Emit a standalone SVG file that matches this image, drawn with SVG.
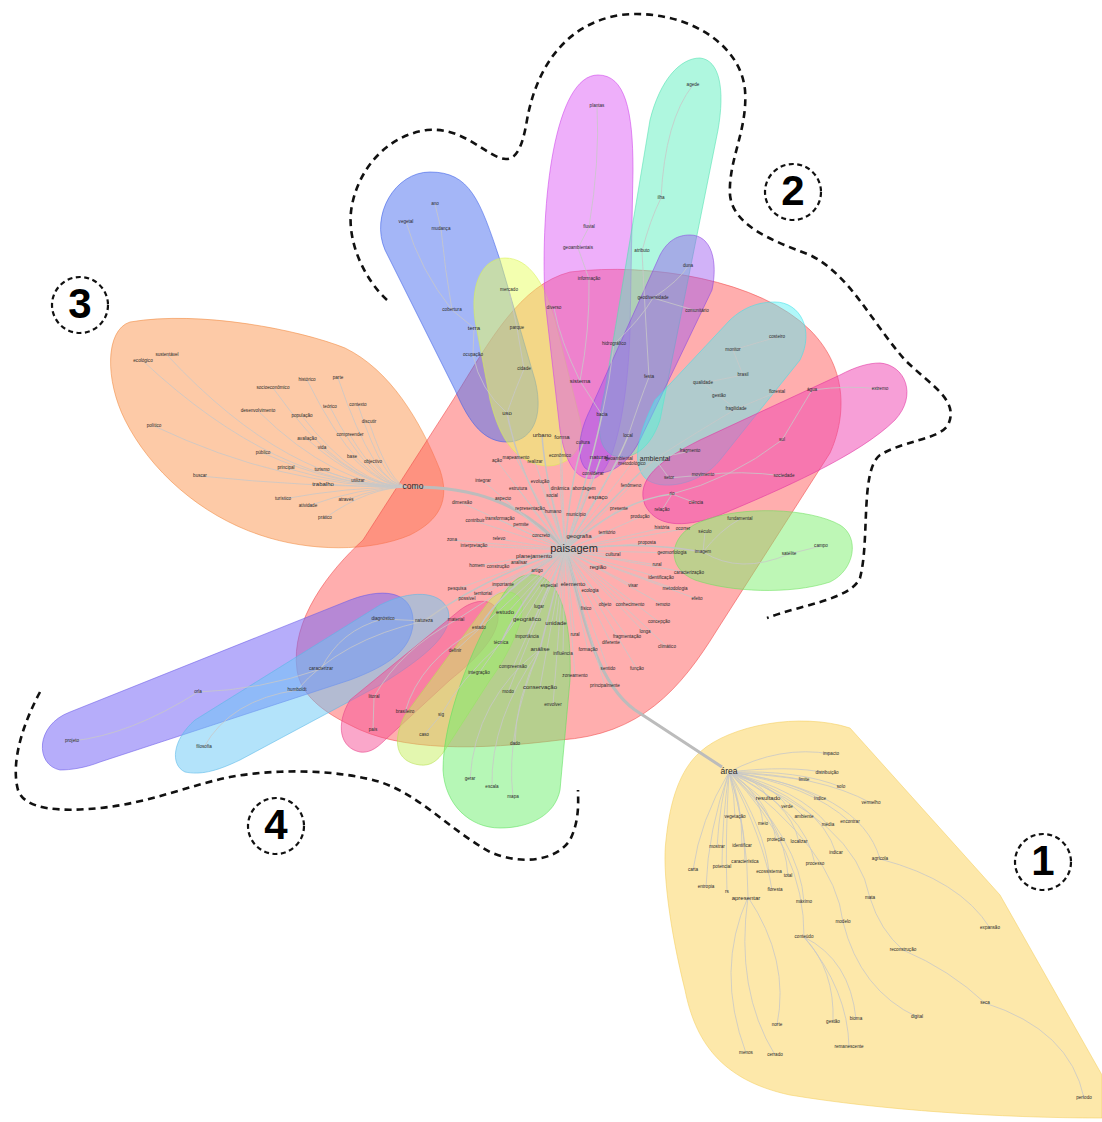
<svg xmlns="http://www.w3.org/2000/svg" width="1102" height="1122" viewBox="0 0 1102 1122">
<style>
.h{stroke-width:.8;stroke-opacity:.7}
.e{fill:none;stroke:#c8c8c8;stroke-width:.8}
.T{fill:none;stroke:#c4c4c4;stroke-width:1.5}
.E{fill:none;stroke:#bcbcbc;stroke-width:3}
text{font-family:"Liberation Sans",Arial,sans-serif;font-size:4.6px;fill:#2a2a2a;text-anchor:middle;dominant-baseline:middle}
.m{font-size:6px}
.b{font-size:8.5px}
.B{font-size:11px}
.d{fill:none;stroke:#111;stroke-width:2.6;stroke-dasharray:7 5}
.c{fill:none;stroke:#111;stroke-width:2.2;stroke-dasharray:5 3.5}
.n{font-size:42px;font-weight:bold;fill:#000}
</style>
<rect width="1102" height="1122" fill="#fff"/>
<g id="hulls">
<path id="hull-area" class="h" d="M700 752C730 725 800 712 850 728L1000 895L1102 1075L1102 1118C1000 1118 880 1110 790 1095C720 1080 695 1040 685 990C670 930 662 870 666 840C670 800 680 770 700 752Z" fill="#fcd972" fill-opacity=".6" stroke="#f5cf60"/>
<path id="hull-como" class="h" d="M130 322C200 310 300 330 345 348C390 370 420 420 440 470C450 500 440 520 410 535C370 552 310 552 260 535C200 515 150 470 125 420C105 380 105 330 130 322Z" fill="#fb8a3c" fill-opacity=".45" stroke="#f08a40"/>
<path id="hull-paisagem" class="h" d="M297 670C290 620 330 570 363 540L453 400C490 340 520 285 570 272C650 262 760 280 810 330C850 370 845 420 830 453L717 630C680 690 640 735 560 740C480 750 400 752 350 725C315 708 300 690 297 670Z" fill="#ff5555" fill-opacity=".48" stroke="#f04848"/>
<path id="hull-terra" class="h" d="M430 172C470 172 480 200 500 260L535 380C545 420 530 442 507 442C485 442 470 425 455 390L385 250C370 215 395 172 430 172Z" fill="#4a6ef0" fill-opacity=".5" stroke="#3a5ee8"/>
<path id="hull-mercado" class="h" d="M505 258C530 258 545 285 555 320L580 420C588 455 560 470 540 465C515 460 500 440 490 400L475 320C470 285 482 258 505 258Z" fill="#e8ff60" fill-opacity=".5" stroke="#d8f050"/>
<path id="hull-plantas" class="h" d="M598 75C625 75 633 110 633 170L630 330C628 400 615 470 595 478C575 482 565 460 560 430L545 300C540 200 555 75 598 75Z" fill="#d94ef5" fill-opacity=".45" stroke="#cc40ea"/>
<path id="hull-ilha" class="h" d="M700 58C720 60 725 90 718 130L660 420C650 450 630 462 612 455C595 445 598 420 605 390L650 120C660 80 680 58 700 58Z" fill="#5ff0c0" fill-opacity=".5" stroke="#4fe0b0"/>
<path id="hull-duna" class="h" d="M690 235C712 235 718 262 712 290L640 440C625 470 600 480 585 468C575 455 580 430 590 410L660 255C668 240 678 235 690 235Z" fill="#9a55f0" fill-opacity=".45" stroke="#8a45e0"/>
<path id="hull-costeiro" class="h" d="M775 302C800 302 815 330 800 360L720 460C700 485 660 492 645 478C630 462 640 430 655 400L730 320C745 306 760 302 775 302Z" fill="#4ff0f5" fill-opacity=".45" stroke="#40e0e8"/>
<path id="hull-extremo" class="h" d="M880 363C905 365 918 395 895 420C860 455 780 490 720 515C680 530 655 525 645 505C635 480 660 460 700 440L840 375C855 367 868 363 880 363Z" fill="#f040b0" fill-opacity=".5" stroke="#e030a0"/>
<path id="hull-campo" class="h" d="M700 522C740 505 810 508 840 525C860 537 855 570 830 582C790 595 730 592 695 580C665 568 668 535 700 522Z" fill="#7ef06e" fill-opacity=".5" stroke="#6ee05e"/>
<path id="hull-orla" class="h" d="M60 770C35 765 35 725 70 712L350 600C390 585 415 595 413 625C410 650 390 665 350 680L100 762C85 768 70 770 60 770Z" fill="#7a6af5" fill-opacity=".55" stroke="#6a5ae8"/>
<path id="hull-humboldt" class="h" d="M185 772C170 765 172 740 195 720L380 605C410 590 440 590 448 610C455 635 420 660 380 685L240 760C215 772 200 775 185 772Z" fill="#68c8f5" fill-opacity=".5" stroke="#58b8e8"/>
<path id="hull-litoral" class="h" d="M360 752C340 748 335 725 350 700L460 610C480 595 500 600 498 620C495 640 475 660 450 680L385 740C375 750 368 753 360 752Z" fill="#f55095" fill-opacity=".5" stroke="#e84088"/>
<path id="hull-sig" class="h" d="M420 765C395 762 392 740 405 715L490 600C505 585 525 592 522 612C520 630 505 660 490 680L445 750C437 762 430 766 420 765Z" fill="#c8f060" fill-opacity=".5" stroke="#b8e050"/>
<path id="hull-analise" class="h" d="M535 575C560 578 572 620 570 680L560 790C555 815 530 828 500 828C470 828 445 805 443 770C443 720 470 650 500 600C510 582 520 573 535 575Z" fill="#6ef06e" fill-opacity=".5" stroke="#5ee05e"/>
</g>
<g id="connectors">
<path class="E" d="M413 487C470 487 520 500 565 550"/>
<path class="E" d="M568 556C585 630 600 685 635 710L722 767"/>
<path class="T" d="M565 550Q520 480 507 413M565 550Q545 480 542 435M565 550Q570 480 583 443M565 550Q590 470 602 415M565 550Q610 480 628 436M565 550Q620 490 655 459M565 550Q590 490 601 457M565 550Q480 580 424 621M565 550Q500 590 479 628M565 550L540 649M565 550Q520 600 501 643M565 550Q640 540 703 552M565 550Q620 500 672 494"/>
<path class="e" d="M565 550L497 461M565 550L516 458M565 550L535 462M565 550L560 456M565 550L483 481M565 550L540 482M565 550L560 489M565 550L584 489M565 550L518 489M565 550L552 496M565 550L598 497M565 550L503 499M565 550L462 503M565 550L532 509M565 550L552 511M565 550L619 509M565 550L640 517M565 550L475 521M565 550L500 520M565 550L521 525M565 550L576 515M565 550L607 533M565 550L452 540M565 550L499 539M565 550L541 536M565 550L579 536M565 550L474 546M565 550L613 555M565 550L647 543M565 550L477 566M565 550L498 566M565 550L519 562M565 550L598 567M565 550L537 571M565 550L657 565M565 550L662 528M565 550L683 529M565 550L672 553M565 550L689 573M565 550L661 578M565 550L633 586M565 550L675 589M565 550L697 599M565 550L605 605M565 550L630 605M565 550L663 605M565 550L659 622M565 550L457 589M565 550L503 585M565 550L551 586M565 550L571 584M565 550L590 591M565 550L483 594M565 550L467 599M565 550L539 607M565 550L586 609M565 550L631 486M565 550L593 474M565 550L556 623M565 550L527 637M565 550L575 635M565 550L627 637M565 550L611 643M565 550L645 633M565 550L667 647M565 550L588 650M565 550L563 654M565 550L608 669M565 550L637 669M565 550L575 676M565 550L605 686M565 550L540 687M565 550L513 667M565 550L508 692M565 550L553 705M565 550L507 613M565 550L525 619M565 550L456 620M565 550L479 673M565 550L455 651M565 550L619 459M565 550L632 463M565 550L561 437"/>
<path class="e" d="M507 413Q515 390 524 369L517 328L509 290M507 413Q480 390 473 355L474 328L452 310M452 310Q445 270 441 229L435 204M452 310Q420 270 406 222M602 415L580 381M580 381Q560 340 554 308M580 381Q590 330 589 279L578 248L589 227M589 227Q600 160 597 106M602 415Q610 380 614 344M614 344Q640 320 653 298L697 311M653 298Q680 280 688 266M628 436Q640 400 649 377M649 377Q645 310 642 251M642 251Q650 220 661 198M661 198Q665 120 693 85M655 459Q700 430 736 409L719 396L703 383L743 375L733 350L777 337M736 409L777 392M655 459L690 451M655 459L669 478L703 475M703 475Q740 470 784 476M672 494Q730 480 782 440M782 440Q800 410 812 390M812 390Q850 385 880 389M672 494L696 503M672 494L662 510M703 552Q740 575 789 554L821 546M703 552Q720 530 740 519M703 552L705 532"/>
<path class="e" d="M424 621L383 619M383 619Q340 630 321 669M321 669Q260 690 198 692M198 692Q130 735 72 741M424 621Q340 640 297 690M297 690Q230 700 204 747M456 620Q400 650 374 697L373 730M479 628Q420 660 405 712M501 643Q460 680 441 715L424 735M540 649Q475 700 470 779M540 649Q490 720 492 787M540 649Q505 730 513 797M540 649Q515 700 515 744"/>
<path class="e" d="M408 487Q290 487 167 355M408 487Q278 487 143 361M408 487Q360 487 307 380M408 487Q375 487 338 378M408 487Q343 487 273 388M408 487Q371 487 330 407M408 487Q385 487 358 405M408 487Q335 487 258 411M408 487Q357 487 302 416M408 487Q283 487 154 426M408 487Q391 487 369 422M408 487Q381 487 350 435M408 487Q360 487 307 439M408 487Q367 487 322 448M408 487Q338 487 263 453M408 487Q382 487 352 457M408 487Q393 487 373 462M408 487Q349 487 286 468M408 487Q367 487 322 470M408 487Q306 487 200 476M408 487Q385 487 358 481M408 487Q368 487 323 484M408 487Q348 487 283 499M408 487Q379 487 346 500M408 487Q360 487 308 506M408 487Q369 487 325 518"/>
<path class="e" d="M729 772Q780 745 831 754M729 772Q790 765 827 773M729 772Q770 775 804 780M729 772Q800 770 841 787M729 772Q790 780 820 799M729 772Q820 775 871 803M729 772Q760 780 768 798M729 772Q775 785 787 807M729 772Q780 790 804 817M729 772Q800 790 828 825M729 772Q810 785 850 822M729 772Q735 795 735 817M729 772Q760 790 763 824M729 772Q770 800 776 840M729 772Q790 800 799 842M729 772Q820 800 836 853M729 772Q720 800 717 847M729 772Q742 800 742 846M729 772Q860 790 880 859M729 772Q805 810 815 864M729 772Q700 820 693 870M729 772Q722 820 722 867M729 772Q745 820 745 862M729 772Q765 830 769 872M729 772Q785 820 788 876M729 772Q708 830 706 887M729 772Q725 840 727 892M729 772Q748 830 748 897M729 772Q764 840 772 890M729 772Q855 820 870 898M729 772Q800 840 804 902M729 772Q835 850 843 922M880 859Q960 880 990 928M729 772Q805 850 804 937M870 898Q880 930 903 950M903 950Q950 970 985 1003M985 1003Q1070 1030 1084 1098M843 922Q860 990 917 1017M804 937Q850 960 856 1019M804 937Q835 970 833 1022M804 937Q848 990 849 1047M748 897Q790 960 777 1025M748 897Q715 970 746 1053M748 897Q735 990 775 1055"/>
</g>
<g id="cluster-paisagem">
<text x="574" y="549" class="B">paisagem</text>
<text x="497" y="461">ação</text><text x="516" y="458">mapeamento</text><text x="535" y="462">realizar</text><text x="560" y="456">econômico</text>
<text x="483" y="481">integrar</text><text x="540" y="482">evolução</text><text x="560" y="489">dinâmica</text><text x="584" y="489">abordagem</text>
<text x="518" y="489">estrutura</text><text x="552" y="496">social</text><text x="598" y="497" class="m">espaço</text><text x="503" y="499">aspecto</text>
<text x="462" y="503">dimensão</text><text x="530" y="509">representação</text><text x="553" y="512">humano</text><text x="619" y="509">presente</text>
<text x="640" y="517">produção</text><text x="475" y="521">contribuir</text><text x="500" y="519">transformação</text><text x="521" y="525">permite</text>
<text x="576" y="515">município</text><text x="607" y="533">território</text><text x="452" y="540">zona</text><text x="499" y="539">relevo</text>
<text x="541" y="536">concreto</text><text x="579" y="536" class="m">geografia</text><text x="474" y="546">interpretação</text><text x="613" y="555">cultural</text>
<text x="647" y="543">proposta</text><text x="477" y="566">homem</text><text x="498" y="567">construção</text><text x="519" y="562.5">analisar</text>
<text x="534" y="556" class="m">planejamento</text><text x="598" y="567" class="m">região</text><text x="537" y="571">artigo</text><text x="657" y="565">rural</text>
<text x="662" y="528">história</text><text x="683" y="529">ocorrer</text><text x="672" y="553">geomorfologia</text><text x="689" y="573">caracterização</text>
<text x="661" y="578">identificação</text><text x="633" y="586">visar</text><text x="675" y="589">metodologia</text><text x="697" y="599">efeito</text>
<text x="605" y="605">objeto</text><text x="630" y="605">conhecimento</text><text x="663" y="605">remoto</text><text x="659" y="622">concepção</text>
<text x="457" y="589">pesquisa</text><text x="503" y="585">importante</text><text x="549" y="586">especial</text><text x="573" y="584" class="m">elemento</text>
<text x="590" y="591">ecologia</text><text x="483" y="594">territorial</text><text x="467" y="599">possível</text><text x="539" y="607">lugar</text>
<text x="586" y="609">físico</text><text x="631" y="486">fenômeno</text><text x="593" y="474">considerar</text><text x="556" y="623" class="m">unidade</text>
<text x="527" y="637">importância</text><text x="575" y="635">rural</text><text x="627" y="637">fragmentação</text><text x="611" y="643">diferente</text>
<text x="645" y="632">longa</text><text x="667" y="647">climático</text><text x="588" y="650">formação</text><text x="563" y="654">influência</text>
<text x="540" y="649" class="m">análise</text><text x="608" y="669">sentido</text><text x="637" y="669">função</text><text x="575" y="676">zoneamento</text>
<text x="605" y="686">principalmente</text><text x="540" y="687" class="m">conservação</text><text x="513" y="667">compreensão</text><text x="508" y="692">modo</text>
<text x="553" y="705">envolver</text><text x="505" y="612" class="m">estudo</text><text x="527" y="619" class="m">geográfico</text><text x="456" y="620">material</text>
<text x="479" y="628">estado</text><text x="501" y="643">técnica</text><text x="479" y="673">integração</text><text x="455" y="651">definir</text>
<text x="515" y="744">dado</text>
</g>
<g id="cluster-top">
<text x="435" y="204">ano</text><text x="406" y="222">vegetal</text><text x="441" y="229">mudança</text><text x="452" y="310">cobertura</text>
<text x="474" y="328" class="m">terra</text><text x="473" y="355">ocupação</text><text x="524" y="369">cidade</text><text x="507" y="413" class="m">uso</text>
<text x="509" y="290">mercado</text><text x="517" y="328">parque</text><text x="542" y="435" class="m">urbano</text><text x="562" y="437" class="m">forma</text>
<text x="597" y="106">plantas</text><text x="589" y="227">fluvial</text><text x="578" y="248">geoambientais</text><text x="589" y="279">informação</text>
<text x="554" y="308">diverso</text><text x="580" y="381" class="m">sistema</text><text x="602" y="415">bacia</text><text x="583" y="443">cultura</text>
<text x="614" y="344">hidrográfico</text><text x="693" y="85">agede</text><text x="661" y="198">ilha</text><text x="642" y="251">atributo</text>
<text x="688" y="266">duna</text><text x="653" y="298">geodiversidade</text><text x="697" y="311">comunitário</text><text x="649" y="377">festa</text>
<text x="628" y="436">local</text><text x="599" y="457" class="m">natural</text><text x="619" y="459">geoambiental</text><text x="632" y="464">metodológico</text>
<text x="655" y="459" style="font-size:7px">ambiental</text>
<text x="777" y="337">costeiro</text><text x="733" y="350">monitor</text><text x="743" y="375">brasil</text><text x="703" y="383">qualidade</text>
<text x="719" y="396">gestão</text><text x="777" y="392">florestal</text><text x="736" y="409">fragilidade</text><text x="690" y="451">fragmento</text>
<text x="812" y="390">água</text><text x="880" y="389">extremo</text><text x="782" y="440">sul</text><text x="703" y="475">movimento</text>
<text x="669" y="478">setor</text><text x="784" y="476">sociedade</text><text x="672" y="494">rio</text><text x="696" y="503">ciência</text>
<text x="662" y="510">relação</text>
<text x="740" y="519">fundamental</text><text x="705" y="532">século</text><text x="703" y="552">imagem</text><text x="789" y="554">satélite</text><text x="821" y="546">campo</text>
</g>
<g id="cluster-como">
<text x="413" y="487" class="b">como</text>
<text x="167" y="355">sustentável</text><text x="143" y="361">ecológico</text><text x="307" y="380">histórico</text><text x="338" y="378">parte</text>
<text x="273" y="388">socioeconômico</text><text x="330" y="407">teórico</text><text x="358" y="405">contexto</text><text x="258" y="411">desenvolvimento</text>
<text x="302" y="416">população</text><text x="154" y="426">político</text><text x="369" y="422">discutir</text><text x="350" y="435">compreender</text>
<text x="307" y="439">avaliação</text><text x="322" y="448">vida</text><text x="263" y="453">público</text><text x="352" y="457">base</text>
<text x="373" y="462">objectivo</text><text x="286" y="468">principal</text><text x="322" y="470">turismo</text><text x="200" y="476">buscar</text>
<text x="358" y="481">utilizar</text><text x="323" y="484" class="m">trabalho</text><text x="283" y="499">turístico</text><text x="346" y="500">através</text>
<text x="308" y="506">atividade</text><text x="325" y="518">prático</text>
</g>
<g id="cluster-bottom">
<text x="383" y="619">diagnóstico</text><text x="424" y="621">natureza</text><text x="321" y="669">caracterizar</text><text x="198" y="692">orla</text>
<text x="297" y="690">humboldt</text><text x="374" y="697">litoral</text><text x="405" y="712">brasileiro</text><text x="441" y="715">sig</text>
<text x="72" y="741">projeto</text><text x="204" y="747">filosofia</text><text x="373" y="730">país</text><text x="424" y="735">caso</text>
<text x="470" y="779">gerar</text><text x="492" y="787">escala</text><text x="513" y="797">mapa</text>
</g>
<g id="cluster-area">
<text x="729" y="772" class="b">área</text>
<text x="831" y="754">impacto</text><text x="827" y="773">distribuição</text><text x="804" y="780">limite</text><text x="841" y="787">solo</text>
<text x="820" y="799">índice</text><text x="871" y="803">vermelho</text><text x="768" y="798" class="m">resultado</text><text x="787" y="807">verde</text>
<text x="804" y="817">ambiente</text><text x="828" y="825">média</text><text x="850" y="822">encontrar</text><text x="735" y="817">vegetação</text>
<text x="763" y="824">meio</text><text x="776" y="840">proteção</text><text x="799" y="842">localizar</text><text x="836" y="853">indicar</text>
<text x="717" y="847">mostrar</text><text x="742" y="846">identificar</text><text x="880" y="859">agrícola</text><text x="815" y="864">processo</text>
<text x="693" y="870">carta</text><text x="722" y="867">potencial</text><text x="745" y="862">característica</text><text x="769" y="872">ecossistema</text>
<text x="788" y="876">total</text><text x="706" y="887">entropia</text><text x="727" y="892">rs</text><text x="746" y="898" class="m">apresentar</text>
<text x="775" y="890">floresta</text><text x="870" y="898">mata</text><text x="804" y="902">máximo</text><text x="843" y="922">modelo</text>
<text x="990" y="928">expansão</text><text x="804" y="937">conteúdo</text><text x="903" y="950">reconstrução</text><text x="985" y="1003">seca</text>
<text x="917" y="1017">digital</text><text x="856" y="1019">bioma</text><text x="833" y="1022">gestão</text><text x="777" y="1025">norte</text>
<text x="849" y="1047">remanescente</text><text x="746" y="1053">menos</text><text x="775" y="1055">cerrado</text><text x="1084" y="1098">período</text>
</g>
<g id="group-outlines">
<path class="d" d="M387 300C365 280 345 240 352 205C360 165 390 135 427 130C460 127 480 150 500 158C515 163 522 150 527 120C535 75 560 25 620 15C680 8 740 40 745 90C748 130 728 160 730 195C733 225 770 240 810 255C850 275 870 320 905 360C930 385 960 400 948 425C938 440 905 440 880 455C860 470 870 540 860 578C850 600 800 605 767 618"/>
<path class="d" d="M40 692C25 720 10 760 18 790C25 810 60 812 100 808C150 803 190 785 230 777C280 768 340 770 380 782C420 795 450 830 490 852C520 865 555 862 570 840C580 820 578 800 578 790"/>
</g>
<g id="label-1"><circle class="c" cx="1043" cy="862" r="28"/><text class="n" x="1043" y="864">1</text></g>
<g id="label-2"><circle class="c" cx="793" cy="192" r="28"/><text class="n" x="793" y="194">2</text></g>
<g id="label-3"><circle class="c" cx="80" cy="305" r="28"/><text class="n" x="80" y="307">3</text></g>
<g id="label-4"><circle class="c" cx="276" cy="826" r="28"/><text class="n" x="276" y="828">4</text></g>
</svg>
